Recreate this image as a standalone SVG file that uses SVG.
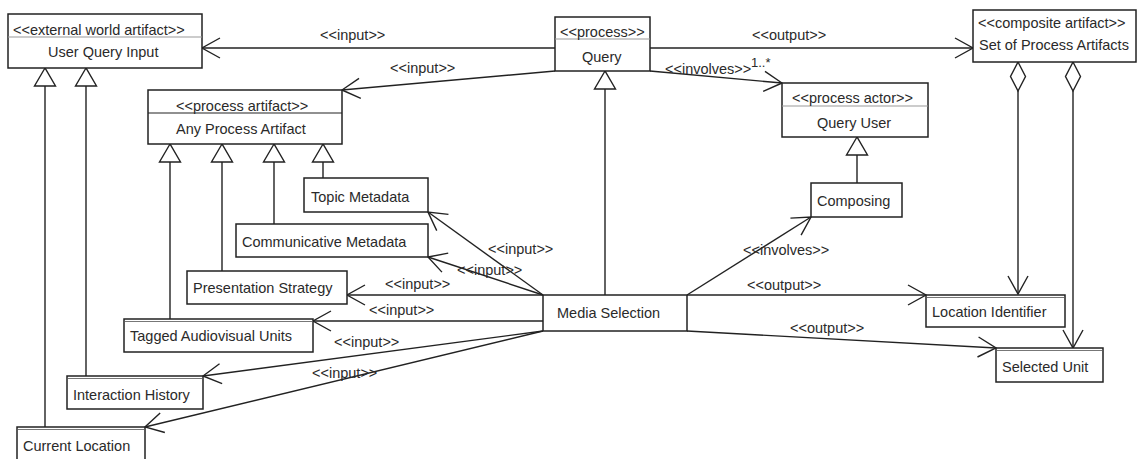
<svg xmlns="http://www.w3.org/2000/svg" width="1137" height="459" viewBox="0 0 1137 459">
<defs>
<style>
.box{fill:#fff;stroke:#222;stroke-width:1.5}
.sep{stroke:#999;stroke-width:1}
.sepd{stroke:#222;stroke-width:1.2}
.dbl{stroke:#777;stroke-width:1}
text{font-family:"Liberation Sans",Arial,sans-serif;font-size:14.5px;fill:#2a2a2a}
.ln{fill:none;stroke:#222;stroke-width:1.4}
.arr{marker-end:url(#open)}
.gen{marker-end:url(#tri)}
</style>
<marker id="open" markerUnits="userSpaceOnUse" markerWidth="24" markerHeight="24" viewBox="-20 -12 24 24" refX="0" refY="0" orient="auto" overflow="visible">
<path d="M-18,-10 L0,0 L-18,10" fill="none" stroke="#222" stroke-width="1.4"/>
</marker>
<marker id="tri" markerUnits="userSpaceOnUse" markerWidth="24" markerHeight="24" viewBox="-20 -12 24 24" refX="0" refY="0" orient="auto" overflow="visible">
<path d="M0,0 L-18,-10.5 L-18,10.5 Z" fill="#fff" stroke="#222" stroke-width="1.4"/>
</marker>
</defs>

<g id="connectors">
<!-- Query associations -->
<path class="ln arr" d="M555,48 L202,48"/>
<text x="320" y="40">&lt;&lt;input&gt;&gt;</text>
<path class="ln arr" d="M555,71 L342,90"/>
<text x="390" y="73">&lt;&lt;input&gt;&gt;</text>
<path class="ln arr" d="M650,48 L973,48"/>
<text x="752" y="40">&lt;&lt;output&gt;&gt;</text>
<path class="ln arr" d="M650,71 L782,83"/>
<text x="665" y="74">&lt;&lt;involves&gt;&gt;</text>
<text x="751" y="67" style="font-size:13px">1..*</text>
<!-- generalizations -->
<path class="ln gen" d="M857,183 L857,137"/>
<path class="ln gen" d="M605,295 L605,71"/>
<path class="ln gen" d="M45,427 L45,68"/>
<path class="ln gen" d="M86,376 L86,68"/>
<path class="ln gen" d="M170,319 L170,144"/>
<path class="ln gen" d="M222,271 L222,144"/>
<path class="ln gen" d="M274,224 L274,144"/>
<path class="ln gen" d="M323,178 L323,144"/>
<!-- Media Selection associations -->
<path class="ln arr" d="M687,295 L811,217"/>
<text x="743" y="255">&lt;&lt;involves&gt;&gt;</text>
<path class="ln arr" d="M543,295 L428,212"/>
<text x="488" y="254">&lt;&lt;input&gt;&gt;</text>
<path class="ln arr" d="M543,295 L428,257"/>
<text x="457" y="275">&lt;&lt;input&gt;&gt;</text>
<path class="ln arr" d="M543,295 L347,295"/>
<text x="385" y="289">&lt;&lt;input&gt;&gt;</text>
<path class="ln arr" d="M543,321 L313,321"/>
<text x="369" y="315">&lt;&lt;input&gt;&gt;</text>
<path class="ln arr" d="M543,331 L203,376"/>
<text x="334" y="347">&lt;&lt;input&gt;&gt;</text>
<path class="ln arr" d="M543,331 L145,427"/>
<text x="312" y="378">&lt;&lt;input&gt;&gt;</text>
<path class="ln arr" d="M687,295 L926,295"/>
<text x="747" y="290">&lt;&lt;output&gt;&gt;</text>
<path class="ln arr" d="M687,331 L996,348"/>
<text x="790" y="333">&lt;&lt;output&gt;&gt;</text>
<!-- aggregations -->
<path class="ln arr" d="M1018,91 L1018,294"/>
<polygon points="1018,62 1025.5,76.5 1018,91 1010.5,76.5" fill="#fff" stroke="#222" stroke-width="1.4"/>
<path class="ln arr" d="M1073,91 L1073,348"/>
<polygon points="1073,62 1080.5,76.5 1073,91 1065.5,76.5" fill="#fff" stroke="#222" stroke-width="1.4"/>
</g>

<g id="user-query-input">
<rect class="box" x="8" y="14" width="194" height="54"/>
<line class="sep" x1="8" y1="37" x2="202" y2="37"/>
<text x="13" y="35">&lt;&lt;external world artifact&gt;&gt;</text>
<text x="48" y="57">User Query Input</text>
</g>

<g id="any-process-artifact">
<rect class="box" x="148" y="90" width="194" height="54"/>
<line class="sepd" x1="148" y1="113" x2="342" y2="113"/>
<text x="176" y="111">&lt;&lt;process artifact&gt;&gt;</text>
<text x="176" y="134">Any Process Artifact</text>
</g>

<g id="query">
<rect class="box" x="555" y="17" width="95" height="54"/>
<line class="sep" x1="555" y1="39" x2="650" y2="39"/>
<text x="560" y="37">&lt;&lt;process&gt;&gt;</text>
<text x="582" y="62">Query</text>
</g>

<g id="set-of-process-artifacts">
<rect class="box" x="973" y="10" width="163" height="52"/>
<text x="978" y="28">&lt;&lt;composite artifact&gt;&gt;</text>
<text x="979" y="50">Set of Process Artifacts</text>
</g>

<g id="query-user">
<rect class="box" x="782" y="83" width="146" height="54"/>
<line class="sep" x1="782" y1="106" x2="928" y2="106"/>
<text x="792" y="103">&lt;&lt;process actor&gt;&gt;</text>
<text x="817" y="128">Query User</text>
</g>

<g id="composing">
<rect class="box" x="811" y="183" width="91" height="34"/>
<text x="817" y="206">Composing</text>
</g>

<g id="topic-metadata">
<rect class="box" x="304" y="178" width="124" height="34"/>
<text x="311" y="202">Topic Metadata</text>
</g>

<g id="communicative-metadata">
<rect class="box" x="236" y="224" width="192" height="33"/>
<text x="242" y="247">Communicative Metadata</text>
</g>

<g id="presentation-strategy">
<rect class="box" x="187" y="271" width="160" height="33"/>
<text x="193" y="293">Presentation Strategy</text>
</g>

<g id="tagged-audiovisual-units">
<rect class="box" x="124" y="319" width="189" height="33"/>
<line class="dbl" x1="125" y1="321.5" x2="312" y2="321.5"/>
<text x="130" y="341">Tagged Audiovisual Units</text>
</g>

<g id="interaction-history">
<rect class="box" x="67" y="376" width="136" height="33"/>
<line class="dbl" x1="68" y1="378.5" x2="202" y2="378.5"/>
<text x="73" y="400">Interaction History</text>
</g>

<g id="current-location">
<rect class="box" x="17" y="427" width="128" height="40"/>
<line class="dbl" x1="18" y1="429.5" x2="144" y2="429.5"/>
<text x="23" y="451">Current Location</text>
</g>

<g id="media-selection">
<rect class="box" x="543" y="295" width="144" height="36"/>
<text x="557" y="318">Media Selection</text>
</g>

<g id="location-identifier">
<rect class="box" x="926" y="295" width="139" height="32"/>
<line class="dbl" x1="927" y1="297.5" x2="1064" y2="297.5"/>
<text x="932" y="317">Location Identifier</text>
</g>

<g id="selected-unit">
<rect class="box" x="996" y="348" width="107" height="34"/>
<line class="dbl" x1="997" y1="350.5" x2="1102" y2="350.5"/>
<text x="1002" y="372">Selected Unit</text>
</g>
</svg>
